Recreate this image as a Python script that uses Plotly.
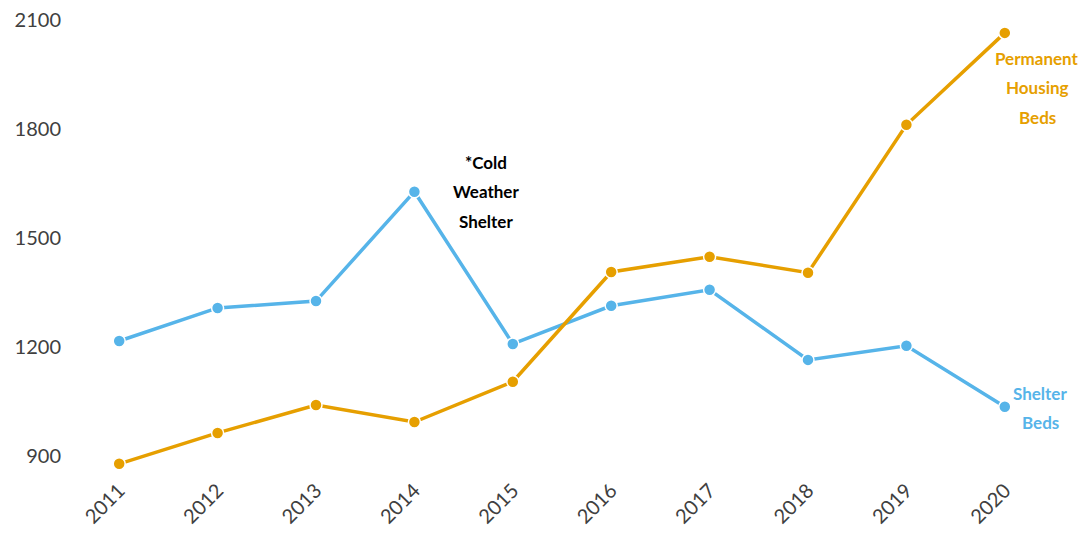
import plotly.graph_objects as go

years = [2011, 2012, 2013, 2014, 2015, 2016, 2017, 2018, 2019, 2020]
shelter_beds = [1216, 1307, 1326, 1627, 1208, 1313, 1357, 1164, 1203, 1035]
permanent_beds = [878, 963, 1040, 993, 1104, 1406, 1448, 1404, 1811, 2064]
y_ticks = [900, 1200, 1500, 1800, 2100]

BLUE = "#56B4E9"
ORANGE = "#E69F00"
FONT = "Lato"

fig = go.Figure()
for name, vals, col in [("Shelter Beds", shelter_beds, BLUE),
                        ("Permanent Housing Beds", permanent_beds, ORANGE)]:
    fig.add_trace(go.Scatter(
        x=years, y=vals, mode="lines+markers", name=name,
        line=dict(color=col, width=3.5),
        marker=dict(color=col, size=12, line=dict(color="white", width=1.5)),
        cliponaxis=False,
    ))

def add_label(lines, x, y, color, spacing=29.5):
    n = len(lines)
    for i, t in enumerate(lines):
        fig.add_annotation(
            x=x, y=y, xref="x", yref="y", text="<b>%s</b>" % t,
            showarrow=False, yshift=((n - 1) / 2 - i) * spacing,
            font=dict(family=FONT, size=17, color=color),
            xanchor="center", yanchor="middle",
        )

add_label(["Permanent", "Housing", "Beds"], 2020.33, 1913, ORANGE)
add_label(["Shelter", "Beds"], 2020.36, 1032, BLUE)
add_label(["*Cold", "Weather", "Shelter"], 2014.73, 1627, "#000000")

fig.update_layout(
    width=1086, height=542,
    margin=dict(l=62, r=40, t=10, b=76),
    paper_bgcolor="white", plot_bgcolor="white",
    showlegend=False,
    font=dict(family=FONT, size=20, color="#404040"),
    xaxis=dict(
        range=[2010.5, 2020.5], tickmode="array", tickvals=years,
        ticktext=[str(y) for y in years], tickangle=-45,
        showgrid=False, zeroline=False, showline=False, ticks="",
        tickfont=dict(family=FONT, size=20, color="#404040"),
        automargin=False,
    ),
    yaxis=dict(
        range=[850, 2105], tickmode="array", tickvals=y_ticks,
        showgrid=False, zeroline=False, showline=False, ticks="",
        tickfont=dict(family=FONT, size=20, color="#404040"),
        ticklabelstandoff=8, automargin=False, ticklabeloverflow="allow",
    ),
)

fig.write_html("out.html")
